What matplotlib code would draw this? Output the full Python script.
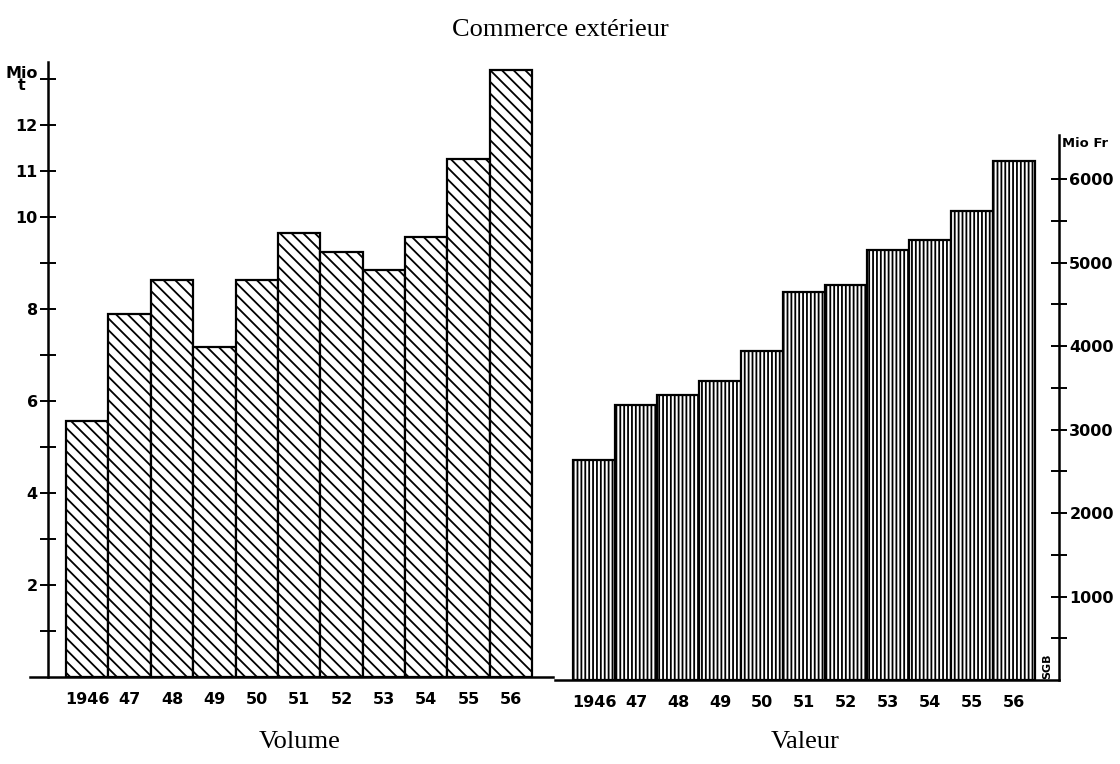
import matplotlib.pyplot as plt
import numpy as np

# dati
anni = ['1946', '47', '48', '49', '50', '51', '52', '53', '54', '55', '56']
volume = [5.57, 7.89, 8.63, 7.17, 8.63, 9.65, 9.24, 8.85, 9.57, 11.26, 13.2]   # Mio t
valore = [2630, 3290, 3410, 3580, 3940, 4650, 4730, 5150, 5270, 5620, 6215]   # Mio Fr

vol_ticks = list(range(1, 14))
vol_labels = ['', '2', '', '4', '', '6', '', '8', '', '10', '11', '12', 'Mio\nt']
val_ticks = list(range(500, 6001, 500))
val_labels = [str(v) if v % 1000 == 0 else '' for v in val_ticks]

# dpi 140 -> passo del tratteggio regolabile; k riporta le misure a "pixel/100"
DPI = 140
k = 100/DPI
W, H = 1120, 764
plt.rcParams['hatch.linewidth'] = 1.3*k
fig = plt.figure(figsize=(W/DPI, H/DPI), dpi=DPI)
tick_font = dict(family='DejaVu Sans', weight='bold', size=11.5*k)

def px(x0, y0, x1, y1):
    # rettangolo in pixel -> coordinate figura
    return [x0/W, (H-y1)/H, (x1-x0)/W, (y1-y0)/H]

x = np.arange(len(anni))

'''
  Volume (sinistra)
'''
ax1 = fig.add_axes(px(30, 62, 553, 677))
ax1.bar(x, volume, width=1.0, color='white', edgecolor='black', linewidth=1.6*k, hatch='\\\\\\\\')
ax1.set_xlim(-1.35, 10.99)
ax1.set_ylim(0, 13.37)
for s in ['top', 'right']:
    ax1.spines[s].set_visible(False)
ax1.spines['left'].set_position(('data', -0.925))
ax1.spines['left'].set_linewidth(1.8*k)
ax1.spines['bottom'].set_linewidth(1.8*k)
ax1.set_yticks(vol_ticks)
ax1.set_yticklabels(vol_labels, fontdict=tick_font, linespacing=0.75, multialignment='center')
ax1.tick_params(axis='y', direction='inout', length=12*k, width=1.4*k, pad=1)
ax1.set_xticks(x)
ax1.set_xticklabels(anni, fontdict=tick_font)
ax1.tick_params(axis='x', length=0, pad=11*k)

'''
  Valeur (destra)
'''
ax2 = fig.add_axes(px(555, 135, 1059, 680))
ax2.bar(x, valore, width=1.0, color='white', edgecolor='black', linewidth=1.6*k, hatch='||||||')
ax2.set_xlim(-0.93, 11.07)
ax2.set_ylim(0, 6527)
for s in ['top', 'left']:
    ax2.spines[s].set_visible(False)
ax2.spines['right'].set_linewidth(1.8*k)
ax2.spines['bottom'].set_linewidth(1.8*k)
ax2.yaxis.tick_right()
ax2.set_yticks(val_ticks)
ax2.set_yticklabels(val_labels, fontdict=tick_font)
ax2.tick_params(axis='y', direction='inout', length=12*k, width=1.4*k, pad=1)
ax2.set_xticks(x)
ax2.set_xticklabels(anni, fontdict=tick_font)
ax2.tick_params(axis='x', length=0, pad=11*k)
ax2.text(1.005, 0.985, 'Mio Fr', transform=ax2.transAxes, fontsize=9.5*k,
         family='DejaVu Sans', weight='bold', ha='left', va='center')
ax2.text(10.8, 160, 'SGB', fontsize=8*k, family='DejaVu Sans', weight='bold',
         rotation=90, ha='center', va='center')

# titoli
serif = dict(family='Liberation Serif', size=19*k)
fig.text(0.5, 1 - 30/H, 'Commerce extérieur', ha='center', va='center', **serif)
fig.text(300/W, 1 - 742/H, 'Volume', ha='center', va='center', **serif)
fig.text(805/W, 1 - 742/H, 'Valeur', ha='center', va='center', **serif)

fig.savefig('out.png', dpi=DPI, facecolor='white')
